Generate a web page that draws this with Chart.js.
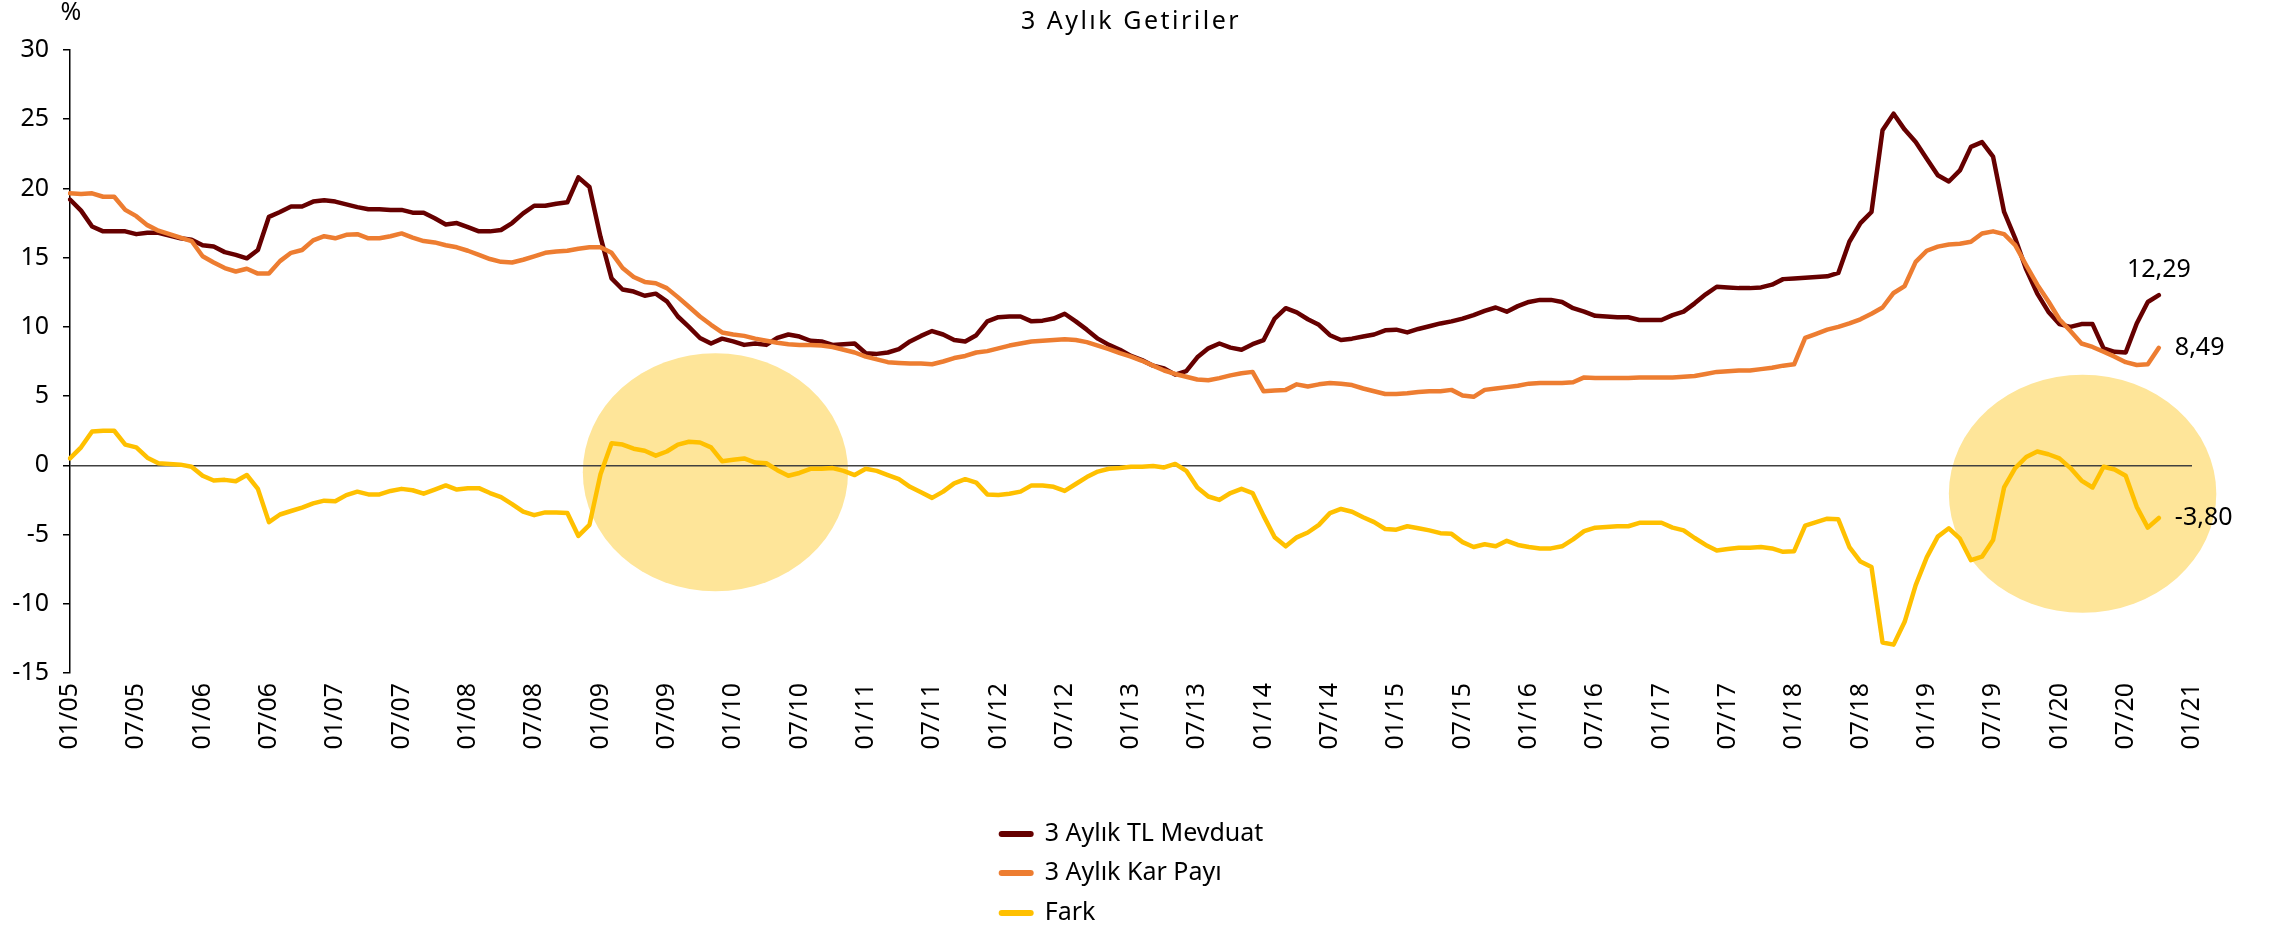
<!DOCTYPE html>
<html lang="tr">
<head>
    <meta charset="UTF-8">
    <title>3 Aylık Getiriler</title>
    <script src="https://cdn.jsdelivr.net/npm/chart.js"></script>
    <style>
        html, body { margin: 0; padding: 0; background: #fff; }
        #chart { display: block; }
    </style>
</head>
<body>
<canvas id="chart" width="2274" height="926"></canvas>
<script>
// months 01/05 .. 01/21, labels shown every 6 months
const firstYear = 2005;
const monthCount = 193;
const categories = [];
for (let i = 0; i < monthCount; i++) {
    const m = (i % 12) + 1;
    const y = (firstYear + Math.floor(i / 12)) % 100;
    categories.push(String(m).padStart(2, '0') + '/' + String(y).padStart(2, '0'));
}

const seriesNames = ['3 Aylık TL Mevduat', '3 Aylık Kar Payı', 'Fark'];

// one row per year
const mevduat = [
    19.2, 18.4, 17.25, 16.9, 16.9, 16.9, 16.7, 16.8, 16.8, 16.6, 16.4, 16.3,
    15.9, 15.8, 15.4, 15.2, 14.95, 15.55, 17.95, 18.3, 18.7, 18.7, 19.05, 19.15,
    19.05, 18.85, 18.65, 18.5, 18.5, 18.45, 18.45, 18.25, 18.25, 17.85, 17.4, 17.5,
    17.2, 16.9, 16.9, 17.0, 17.5, 18.2, 18.75, 18.75, 18.9, 19.0, 20.8, 20.1,
    16.5, 13.5, 12.7, 12.55, 12.25, 12.4, 11.85, 10.75, 10.0, 9.2, 8.8, 9.15,
    8.95, 8.7, 8.8, 8.7, 9.2, 9.45, 9.3, 9.0, 8.95, 8.7, 8.75, 8.8,
    8.1, 8.05, 8.15, 8.4, 8.95, 9.35, 9.7, 9.45, 9.05, 8.95, 9.4, 10.4,
    10.7, 10.75, 10.75, 10.4, 10.45, 10.6, 10.95, 10.4, 9.8, 9.15, 8.7, 8.35,
    7.9, 7.6, 7.2, 7.0, 6.55, 6.8, 7.8, 8.45, 8.8, 8.5, 8.35, 8.75,
    9.05, 10.6, 11.35, 11.05, 10.55, 10.15, 9.4, 9.05, 9.15, 9.3, 9.45, 9.75,
    9.8, 9.6, 9.85, 10.05, 10.25, 10.4, 10.6, 10.85, 11.15, 11.4, 11.1, 11.5,
    11.8, 11.95, 11.95, 11.8, 11.35, 11.1, 10.8, 10.75, 10.7, 10.7, 10.5, 10.5,
    10.5, 10.85, 11.1, 11.7, 12.35, 12.9, 12.85, 12.8, 12.8, 12.85, 13.05, 13.45,
    13.5, 13.55, 13.6, 13.65, 13.9, 16.15, 17.5, 18.3, 24.2, 25.4, 24.25, 23.35,
    22.15, 20.95, 20.5, 21.3, 23.0, 23.35, 22.3, 18.3, 16.4, 14.15, 12.4, 11.1,
    10.2, 10.0, 10.2, 10.2, 8.45, 8.2, 8.15, 10.25, 11.8, 12.29
];

const karPayi = [
    19.65, 19.6, 19.65, 19.4, 19.4, 18.45, 18.0, 17.35, 16.95, 16.7, 16.45, 16.2,
    15.1, 14.65, 14.25, 14.0, 14.2, 13.85, 13.85, 14.75, 15.35, 15.55, 16.25, 16.55,
    16.4, 16.65, 16.7, 16.4, 16.4, 16.55, 16.75, 16.45, 16.2, 16.1, 15.9, 15.75,
    15.5, 15.2, 14.9, 14.7, 14.65, 14.85, 15.1, 15.35, 15.45, 15.5, 15.65, 15.75,
    15.75, 15.35, 14.25, 13.6, 13.25, 13.15, 12.8, 12.15, 11.45, 10.75, 10.15, 9.6,
    9.45, 9.35, 9.15, 9.0, 8.85, 8.75, 8.7, 8.7, 8.65, 8.55, 8.35, 8.15,
    7.85, 7.65, 7.45, 7.4, 7.35, 7.35, 7.3, 7.5, 7.75, 7.9, 8.15, 8.25,
    8.45, 8.65, 8.8, 8.95, 9.0, 9.05, 9.1, 9.05, 8.9, 8.65, 8.4, 8.1,
    7.85, 7.55, 7.2, 6.85, 6.6, 6.4, 6.2, 6.15, 6.3, 6.5, 6.65, 6.75,
    5.35, 5.4, 5.45, 5.85, 5.7, 5.85, 5.95, 5.9, 5.8, 5.55, 5.35, 5.15,
    5.15, 5.2, 5.3, 5.35, 5.35, 5.45, 5.05, 4.95, 5.45, 5.55, 5.65, 5.75,
    5.9, 5.95, 5.95, 5.95, 6.0, 6.35, 6.3, 6.3, 6.3, 6.3, 6.35, 6.35,
    6.35, 6.35, 6.4, 6.45, 6.6, 6.75, 6.8, 6.85, 6.85, 6.95, 7.05, 7.2,
    7.3, 9.2, 9.5, 9.8, 10.0, 10.25, 10.55, 10.95, 11.4, 12.45, 12.95, 14.7,
    15.5, 15.8, 15.95, 16.0, 16.15, 16.75, 16.9, 16.7, 15.9, 14.45, 13.05, 11.85,
    10.55, 9.7, 8.8, 8.55, 8.2, 7.85, 7.45, 7.25, 7.3, 8.49
];

const fark = [
    0.5, 1.3, 2.45, 2.5, 2.5, 1.5, 1.3, 0.55, 0.15, 0.1, 0.05, -0.1,
    -0.75, -1.1, -1.05, -1.15, -0.7, -1.7, -4.1, -3.55, -3.3, -3.05, -2.75, -2.55,
    -2.6, -2.15, -1.9, -2.1, -2.1, -1.85, -1.7, -1.8, -2.05, -1.75, -1.45, -1.75,
    -1.65, -1.65, -2.0, -2.3, -2.8, -3.35, -3.6, -3.4, -3.4, -3.45, -5.1, -4.3,
    -0.65, 1.6, 1.5, 1.2, 1.05, 0.7, 1.0, 1.5, 1.7, 1.65, 1.3, 0.3,
    0.4, 0.5, 0.2, 0.15, -0.35, -0.75, -0.55, -0.25, -0.25, -0.2, -0.4, -0.7,
    -0.25, -0.4, -0.7, -1.0, -1.55, -1.95, -2.35, -1.9, -1.3, -1.0, -1.25, -2.1,
    -2.15, -2.05, -1.9, -1.45, -1.45, -1.55, -1.85, -1.35, -0.85, -0.45, -0.25, -0.2,
    -0.1, -0.1, -0.05, -0.15, 0.1, -0.4, -1.6, -2.25, -2.5, -2.0, -1.7, -2.0,
    -3.65, -5.2, -5.85, -5.2, -4.85, -4.3, -3.45, -3.15, -3.35, -3.75, -4.1, -4.6,
    -4.65, -4.4, -4.55, -4.7, -4.9, -4.95, -5.55, -5.9, -5.7, -5.85, -5.45, -5.75,
    -5.9, -6.0, -6.0, -5.85, -5.35, -4.75, -4.5, -4.45, -4.4, -4.4, -4.15, -4.15,
    -4.15, -4.5, -4.7, -5.25, -5.75, -6.15, -6.05, -5.95, -5.95, -5.9, -6.0, -6.25,
    -6.2, -4.35, -4.1, -3.85, -3.9, -5.9, -6.95, -7.35, -12.8, -12.95, -11.3, -8.65,
    -6.65, -5.15, -4.55, -5.3, -6.85, -6.6, -5.4, -1.6, -0.2, 0.6, 1.0, 0.8,
    0.5, -0.2, -1.1, -1.6, -0.1, -0.3, -0.75, -3.0, -4.5, -3.80
];

// shaded ovals (centre month index / value, half-width in months, half-height in %)
const highlights = [
    { month: 58.4, value: -0.5, halfMonths: 12.0, halfValue: 8.6 },
    { month: 182.1, value: -2.05, halfMonths: 12.1, halfValue: 8.6 }
];

const FONT = "'Noto Sans', sans-serif";
Chart.defaults.font.family = FONT;
Chart.defaults.font.size = 25;
Chart.defaults.color = '#000';

const highlightPlugin = {
    id: 'highlights',
    beforeDraw(chart) {
        const { ctx, scales: { x, y } } = chart;
        const monthPx = x.getPixelForValue(1) - x.getPixelForValue(0);
        const unitPx = y.getPixelForValue(0) - y.getPixelForValue(1);
        ctx.save();
        ctx.fillStyle = '#FEE599';
        highlights.forEach(h => {
            ctx.beginPath();
            ctx.ellipse(x.getPixelForValue(h.month), y.getPixelForValue(h.value),
                h.halfMonths * monthPx, h.halfValue * unitPx, 0, 0, Math.PI * 2);
            ctx.fill();
        });
        ctx.restore();
    }
};

// value at the end of each line
const endLabelPlugin = {
    id: 'endLabels',
    afterDatasetsDraw(chart) {
        const ctx = chart.ctx;
        ctx.save();
        ctx.font = '25px ' + FONT;
        ctx.fillStyle = '#000';
        chart.data.datasets.forEach((ds, i) => {
            const pts = chart.getDatasetMeta(i).data;
            const last = pts[pts.length - 1];
            const txt = ds.data[ds.data.length - 1].toFixed(2).replace('.', ',');
            if (ds.endLabel === 'above') {
                ctx.textAlign = 'center';
                ctx.textBaseline = 'middle';
                ctx.fillText(txt, last.x, last.y - 25);
            } else {
                ctx.textAlign = 'left';
                ctx.textBaseline = 'middle';
                ctx.fillText(txt, last.x + 16, last.y);
            }
        });
        ctx.restore();
    }
};

// title, unit and a column legend under the axis labels
const decorPlugin = {
    id: 'decor',
    afterDraw(chart) {
        const { ctx, chartArea } = chart;
        const cx = (chartArea.left + chartArea.right) / 2;
        ctx.save();
        ctx.fillStyle = '#000';
        ctx.textBaseline = 'middle';

        ctx.font = '25px ' + FONT;
        ctx.textAlign = 'center';
        ctx.letterSpacing = '2.5px';
        ctx.fillText('3 Aylık Getiriler', cx, 22);
        ctx.letterSpacing = '0px';
        ctx.fillText('%', chartArea.left + 1, 13);

        const rows = [834, 873, 913];
        const sample = 32, gap = 14;
        let widest = 0;
        chart.data.datasets.forEach(ds => { widest = Math.max(widest, ctx.measureText(ds.label).width); });
        const left = cx - (sample + gap + widest) / 2;
        ctx.textAlign = 'left';
        chart.data.datasets.forEach((ds, i) => {
            ctx.strokeStyle = ds.borderColor;
            ctx.lineWidth = 6;
            ctx.lineCap = 'round';
            ctx.beginPath();
            ctx.moveTo(left + 3, rows[i]);
            ctx.lineTo(left + sample, rows[i]);
            ctx.stroke();
            ctx.fillText(ds.label, left + sample + gap, rows[i]);
        });
        ctx.restore();
    }
};

function lineSet(label, data, color, order, endLabel) {
    return {
        label: label,
        data: data,
        borderColor: color,
        backgroundColor: color,
        borderWidth: 4.5,
        pointRadius: 0,
        pointHoverRadius: 0,
        tension: 0,
        borderJoinStyle: 'round',
        borderCapStyle: 'round',
        fill: false,
        order: order,
        endLabel: endLabel
    };
}

new Chart(document.getElementById('chart'), {
    type: 'line',
    data: {
        labels: categories,
        datasets: [
            lineSet(seriesNames[0], mevduat, '#660000', 3, 'above'),
            lineSet(seriesNames[1], karPayi, '#ED7D31', 2, 'right'),
            lineSet(seriesNames[2], fark, '#FFC000', 1, 'right')
        ]
    },
    options: {
        responsive: false,
        devicePixelRatio: 1,
        animation: false,
        layout: { padding: { top: 50, right: 82, bottom: 0, left: 0 } },
        plugins: {
            legend: { display: false },
            title: { display: false },
            tooltip: { enabled: false }
        },
        scales: {
            x: {
                type: 'category',
                grid: { display: false, drawTicks: false },
                border: { display: false },
                ticks: {
                    autoSkip: false,
                    minRotation: 90,
                    maxRotation: 90,
                    padding: 10,
                    font: { size: 25 },
                    callback: function (v, i) { return i % 6 === 0 ? this.getLabelForValue(v) : null; }
                },
                afterFit: scale => { scale.height = 253; }
            },
            y: {
                min: -15,
                max: 30,
                ticks: { stepSize: 5, padding: 14, font: { size: 25 } },
                grid: {
                    color: c => (c.tick && c.tick.value === 0 ? '#404040' : 'rgba(0,0,0,0)'),
                    lineWidth: 1.5,
                    drawTicks: true,
                    tickLength: 7,
                    tickColor: '#000',
                    tickWidth: 1.5
                },
                border: { display: true, color: '#000', width: 1.5 },
                afterFit: scale => { scale.width = 70; }
            }
        }
    },
    plugins: [highlightPlugin, endLabelPlugin, decorPlugin]
});
</script>
</body>
</html>
